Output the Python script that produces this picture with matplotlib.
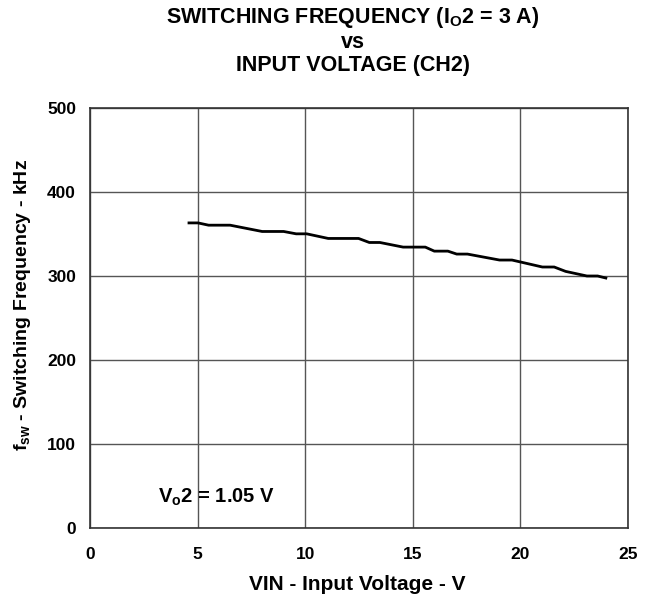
import matplotlib
matplotlib.use('Agg')
import matplotlib.pyplot as plt

plt.rcParams['font.family'] = ['Liberation Sans', 'DejaVu Sans']
plt.rcParams['font.weight'] = 'bold'
plt.rcParams['mathtext.fontset'] = 'custom'
plt.rcParams['mathtext.rm'] = 'Liberation Sans:bold'
plt.rcParams['mathtext.it'] = 'Liberation Sans:bold'
plt.rcParams['mathtext.bf'] = 'Liberation Sans:bold'

# data
vin = [4.60, 5.02, 5.51, 6.51, 8.00, 9.00, 9.58, 10.07, 11.07, 12.48, 12.98, 13.47,
       14.55, 15.58, 16.0, 16.63, 17.04, 17.54, 19.03, 19.61, 21.02, 21.57, 22.10,
       23.09, 23.59, 23.97]
fsw = [363.2, 363.2, 360.5, 360.5, 353, 353, 350.2, 350.2, 344.7, 344.7, 339.9, 339.9,
       334.4, 334.4, 329.6, 329.6, 326.1, 326.1, 319, 319, 310.7, 310.7, 305.5,
       300, 300, 297.6]

xticks = [0, 5, 10, 15, 20, 25]
yticks = [0, 100, 200, 300, 400, 500]

fig = plt.figure(figsize=(6.52, 6.0), dpi=100)
ax = fig.add_axes([90/652, 1 - 528/600, (628 - 90)/652, (528 - 108)/600])

ax.plot(vin, fsw, color='black', lw=2.0)

ax.set_xlim(0, 25)
ax.set_ylim(0, 500)
ax.set_xticks(xticks)
ax.set_yticks(yticks)
ax.grid(True, color='#555555', lw=1.0)
ax.tick_params(axis='x', labelsize=12.5, length=0, pad=14)
ax.tick_params(axis='y', labelsize=12.5, length=0, pad=10)
for sp in ax.spines.values():
    sp.set_color('#333333')
    sp.set_linewidth(1.2)

fig.text(357/652, 1 - 585/600, 'VIN - Input Voltage - V', ha='center', va='center',
         fontsize=15, fontweight='bold')
fig.text(23/652, 1 - 305/600, r'f$_{\mathrm{sw}}$ - Switching Frequency - kHz',
         ha='center', va='center', rotation=90, fontsize=14, fontweight='bold')

ax.text(3.16, 36, r'V$_{\mathrm{o}}$2 = 1.05 V', fontsize=14.5, fontweight='bold',
        va='center', ha='left')

fig.text(353/652, 1 - 18/600, r'SWITCHING FREQUENCY (I$_{\mathrm{O}}$2 = 3 A)',
         ha='center', va='center', fontsize=15.5, fontweight='bold')
fig.text(353/652, 1 - 43/600, 'vs', ha='center', va='center', fontsize=15.5, fontweight='bold')
fig.text(353/652, 1 - 66/600, 'INPUT VOLTAGE (CH2)', ha='center', va='center',
         fontsize=15.5, fontweight='bold')

fig.savefig('out.png', dpi=100)
